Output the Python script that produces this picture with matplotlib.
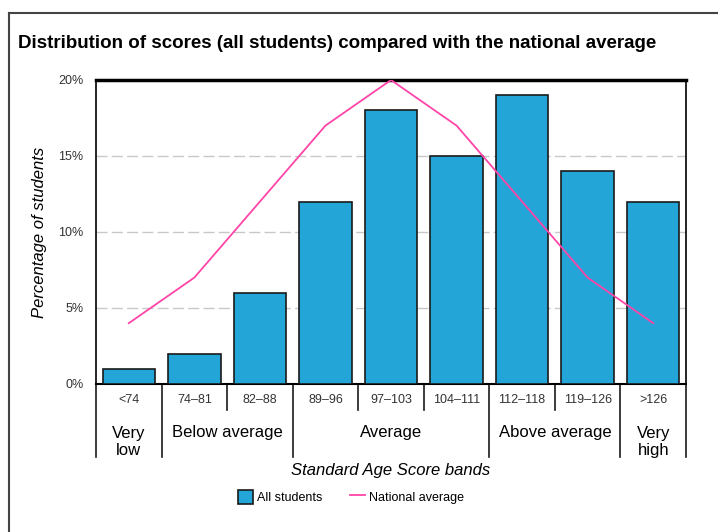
import matplotlib
matplotlib.use('Agg')
import matplotlib.pyplot as plt
from matplotlib.lines import Line2D
from matplotlib.patches import Patch

plt.rcParams['font.family'] = ['Liberation Sans', 'DejaVu Sans']

bands = ["<74", "74\u201381", "82\u201388", "89\u201396", "97\u2013103",
         "104\u2013111", "112\u2013118", "119\u2013126", ">126"]
all_students = [1, 2, 6, 12, 18, 15, 19, 14, 12]
national = [4, 7, 12, 17, 20, 17, 12, 7, 4]
groups = ["Very\nlow", "Below average", "Average", "Above average", "Very\nhigh"]
group_sizes = [1, 2, 3, 2, 1]

W, H = 718, 532
fig = plt.figure(figsize=(W / 100, H / 100), dpi=100)

# frame round the whole thing
fig.add_artist(Line2D([9 / W, 1], [1 - 13 / H] * 2, color='#444444', lw=1.5))
fig.add_artist(Line2D([9 / W] * 2, [0, 1 - 13 / H], color='#444444', lw=1.5))

fig.text(18 / W, 1 - 44 / H, "Distribution of scores (all students) compared with the national average",
         fontsize=13.5, fontweight='bold', va='center', ha='left')

ax = fig.add_axes([96 / W, (H - 384) / H, (686 - 96) / W, (384 - 80) / H])
x = list(range(len(bands)))
ax.bar(x, all_students, width=0.8, color='#23A5D8', edgecolor='#1a1a1a', linewidth=1.2, zorder=3)
ax.plot(x, national, color='#FF45A8', lw=1.3, zorder=4)

ax.set_xlim(-0.5, len(bands) - 0.5)
ax.set_ylim(0, 20)
ax.set_yticks([0, 5, 10, 15, 20])
ax.set_yticklabels(["0%", "5%", "10%", "15%", "20%"], fontsize=9, color='#333333')
ax.tick_params(axis='y', length=0, pad=9)
ax.set_xticks([])
ax.yaxis.grid(True, color='#c8c8c8', lw=1.0, linestyle=(0, (8, 3)), zorder=0)
ax.spines['top'].set_linewidth(2.5)
ax.spines['bottom'].set_linewidth(1.5)
ax.spines['left'].set_linewidth(1.2)
ax.spines['right'].set_linewidth(1.2)
ax.set_ylabel("Percentage of students", fontstyle='italic', fontsize=12)
ax.yaxis.set_label_coords((47 - 96) / 590, 0.5)

tr = ax.get_xaxis_transform()
ph = 384 - 80
for i, b in enumerate(bands):
    ax.text(i, -16 / ph, b, transform=tr, ha='center', va='center', fontsize=9, color='#333333')

# separators under the axis
bounds = [-0.5]
for n in group_sizes:
    bounds.append(bounds[-1] + n)
for i in range(len(bands) + 1):
    xb = i - 0.5
    low = -73 / ph if xb in bounds else -26 / ph
    ax.plot([xb, xb], [0, low], transform=tr, color='#1a1a1a', lw=1.2, clip_on=False)

for g, n, start in zip(groups, group_sizes, bounds):
    cx = start + n / 2
    ypos = -58 / ph if "\n" in g else -49 / ph
    ax.text(cx, ypos, g, transform=tr, ha='center', va='center', fontsize=12, linespacing=1.15)

ax.text(0.5, -86 / ph, "Standard Age Score bands", transform=ax.transAxes,
        ha='center', va='center', fontsize=12, fontstyle='italic')

handles = [Patch(facecolor='#23A5D8', edgecolor='#1a1a1a', lw=1.2, label='All students'),
           Line2D([], [], color='#FF45A8', lw=1.3, label='National average')]
fig.legend(handles=handles, loc='center', bbox_to_anchor=(351 / W, 1 - 497 / H), ncol=2,
           frameon=False, fontsize=9, handlelength=1.2, handleheight=1.4, columnspacing=2.2,
           handletextpad=0.3)

fig.savefig('out.png', dpi=100)
